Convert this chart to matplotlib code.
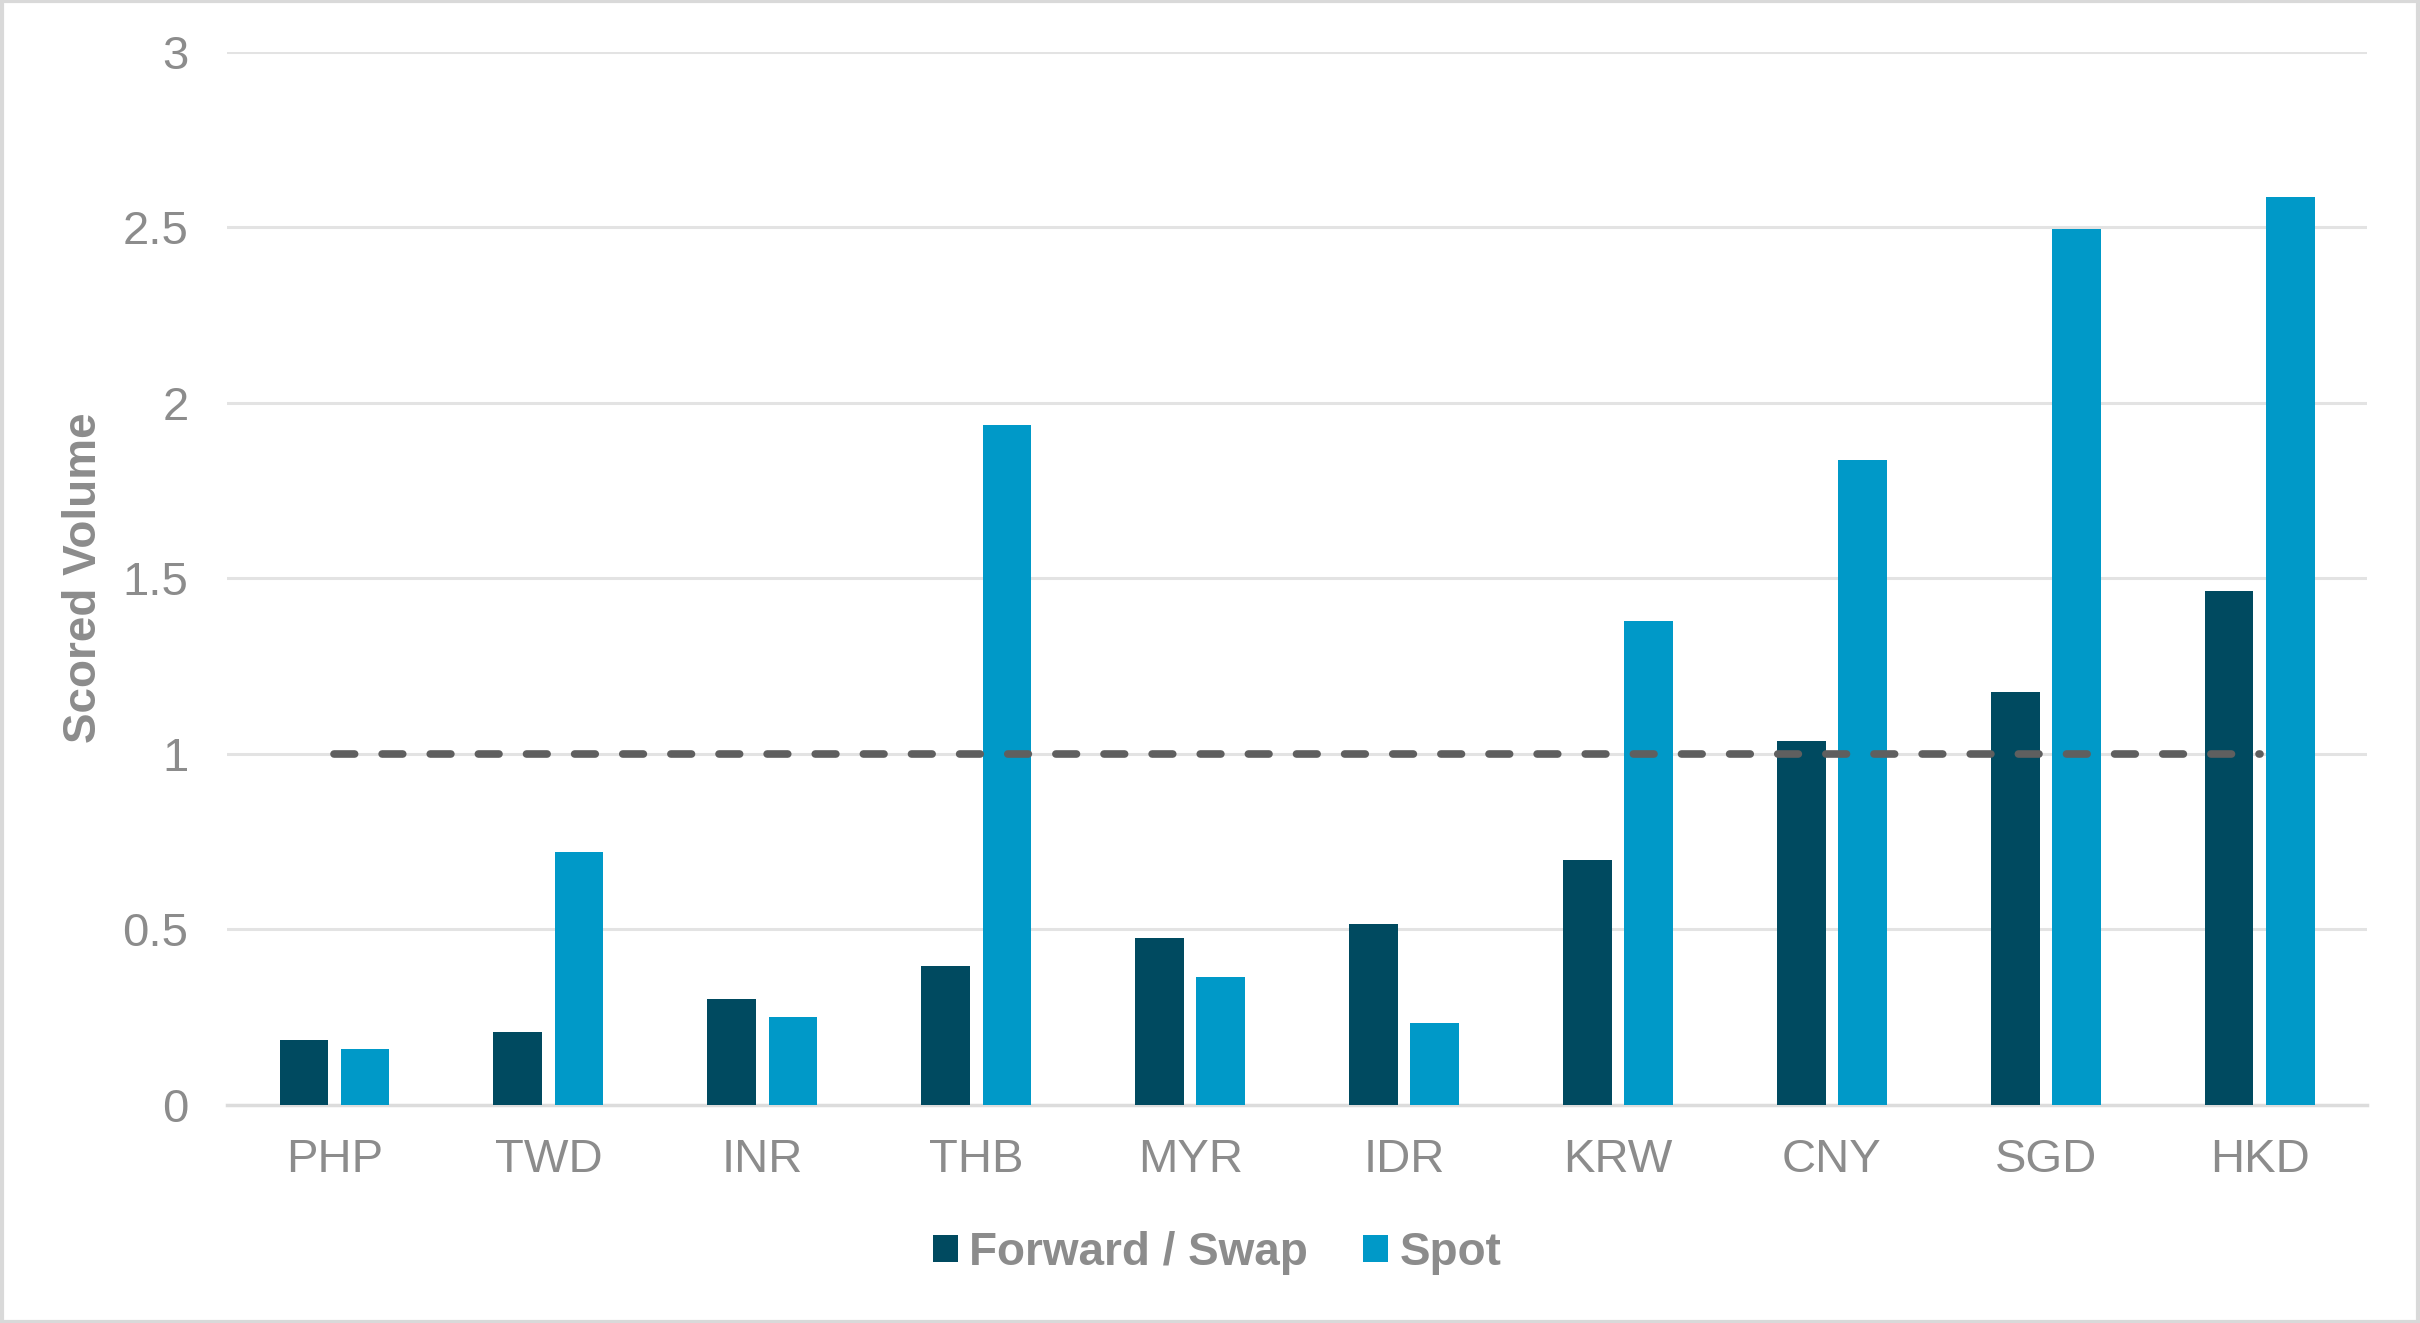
import matplotlib.pyplot as plt
from matplotlib.patches import Rectangle
import numpy as np

# currencies and scored volumes
currencies = ['PHP', 'TWD', 'INR', 'THB', 'MYR', 'IDR', 'KRW', 'CNY', 'SGD', 'HKD']
forward_swap = [0.184, 0.206, 0.30, 0.395, 0.474, 0.514, 0.698, 1.036, 1.177, 1.462]
spot = [0.158, 0.72, 0.25, 1.937, 0.365, 0.233, 1.379, 1.836, 2.494, 2.587]
threshold = [1.0] * len(currencies)
y_ticks = [0, 0.5, 1, 1.5, 2, 2.5, 3]
y_tick_labels = ['0', '0.5', '1', '1.5', '2', '2.5', '3']

plt.rcParams['font.family'] = ['Liberation Sans', 'DejaVu Sans']
grey = '#8c8c8c'

fig = plt.figure(figsize=(24.2, 13.23), dpi=100)
ax = fig.add_axes([0.094, 0.165, 0.884, 0.796])

x = np.arange(len(currencies))
w = 0.227
off = 0.143
ax.bar(x - off, forward_swap, width=w, color='#004a60', label='Forward / Swap', zorder=3)
ax.bar(x + off, spot, width=w, color='#0099c8', label='Spot', zorder=3)

# reference line at 1
ax.plot(x, threshold, color='#5f5f5f', linewidth=5.5, linestyle=(0, (2.7, 3.6)),
        dash_capstyle='round', zorder=4)

ax.set_xlim(-0.5, len(currencies) - 0.5)
ax.set_ylim(0, 3)
ax.set_yticks(y_ticks)
ax.set_yticklabels(y_tick_labels)
ax.set_xticks(x)
ax.set_xticklabels(currencies)
ax.tick_params(axis='both', length=0, labelsize=34, labelcolor=grey)
ax.tick_params(axis='y', pad=28)
ax.tick_params(axis='x', pad=24)

ax.yaxis.grid(True, color='#e3e3e3', linewidth=2.2, zorder=0)
for s in ['top', 'right', 'left']:
    ax.spines[s].set_visible(False)
ax.spines['bottom'].set_color('#dcdcdc')
ax.spines['bottom'].set_linewidth(2.5)
ax.spines['bottom'].set_zorder(2)

ax.set_ylabel('Scored Volume', fontsize=33, fontweight='bold', color=grey)
ax.yaxis.set_label_coords(-0.057, 0.5)

leg = fig.legend(loc='center', bbox_to_anchor=(0.503, 0.053), ncol=2, frameon=False,
                 fontsize=33, handlelength=0.55, handleheight=0.55, handletextpad=0.25,
                 columnspacing=1.2)
for t in leg.get_texts():
    t.set_color(grey)
    t.set_fontweight('bold')

# light frame around the whole picture
fig.patches.append(Rectangle((0.001, 0.001), 0.998, 0.998, transform=fig.transFigure,
                             fill=False, edgecolor='#d9d9d9', linewidth=3))

fig.savefig('out.png', dpi=100)
